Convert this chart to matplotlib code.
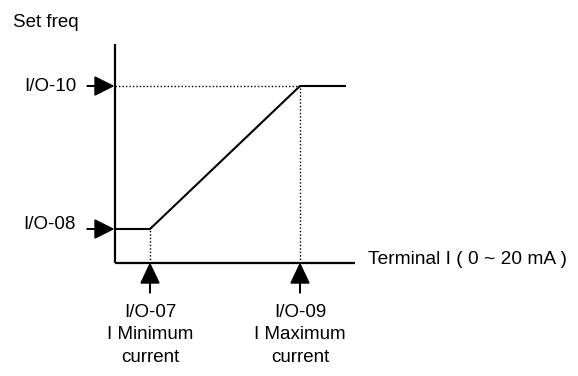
import matplotlib.pyplot as plt

# axis geometry in drawing units (1 unit ~ 1 px, origin at axis corner)
x_axis_end = 240
y_axis_top = 219

# curve: set frequency vs terminal I current
current_pts = [0, 35, 185, 230]      # 0, I/O-07, I/O-09, end of plateau
freq_pts = [34, 34, 177, 177]        # I/O-08, I/O-08, I/O-10, I/O-10
i_min, i_max = 35, 185
f_min, f_max = 34, 177

freq_labels = ['I/O-10', 'I/O-08']
freq_levels = [f_max, f_min]
cur_labels = ['I/O-07\nI Minimum\ncurrent', 'I/O-09\nI Maximum\ncurrent']
cur_levels = [i_min, i_max]

plt.rcParams['font.family'] = ['Liberation Sans', 'DejaVu Sans']

fig = plt.figure(figsize=(5.78, 3.76), dpi=100)
ax = fig.add_axes([0, 0, 1, 1])
ax.set_xlim(-115, 463)
ax.set_ylim(-113, 263)
ax.axis('off')

# axes
ax.plot([0, 0], [0, y_axis_top], color='black', lw=1.6, solid_capstyle='butt')
ax.plot([0, x_axis_end], [0, 0], color='black', lw=1.6, solid_capstyle='butt')

# curve
ax.plot(current_pts, freq_pts, color='black', lw=1.5)

# dotted guides
ax.plot([0, i_max], [f_max, f_max], color='black', lw=1, ls=(0, (1, 1.5)))
ax.plot([i_max, i_max], [0, f_max], color='black', lw=1, ls=(0, (1, 1.5)))
ax.plot([i_min, i_min], [0, f_min], color='black', lw=1, ls=(0, (1, 1.5)))

fs = 13.5
ax.text(-102, 236, 'Set freq', fontsize=fs, ha='left', va='baseline')
ax.text(253, -1, 'Terminal I ( 0 ~ 20 mA )', fontsize=13.8, ha='left', va='baseline')

# labels on the frequency axis (baselines sit a little off the arrow line)
offsets = [-5, 0]
for lab, lev, off in zip(freq_labels, freq_levels, offsets):
    ax.arrow(-28, lev, 26, 0, width=0.6, head_width=18, head_length=18,
             length_includes_head=True, color='black')
    ax.text(-39, lev + off, lab, fontsize=fs, ha='right', va='baseline')

for lab, lev in zip(cur_labels, cur_levels):
    ax.arrow(lev, -30, 0, 29, width=0.6, head_width=18, head_length=19,
             length_includes_head=True, color='black')
    ax.text(lev, -41, lab, fontsize=fs, ha='center', va='top', linespacing=1.42)

fig.savefig('out.png', dpi=100)
